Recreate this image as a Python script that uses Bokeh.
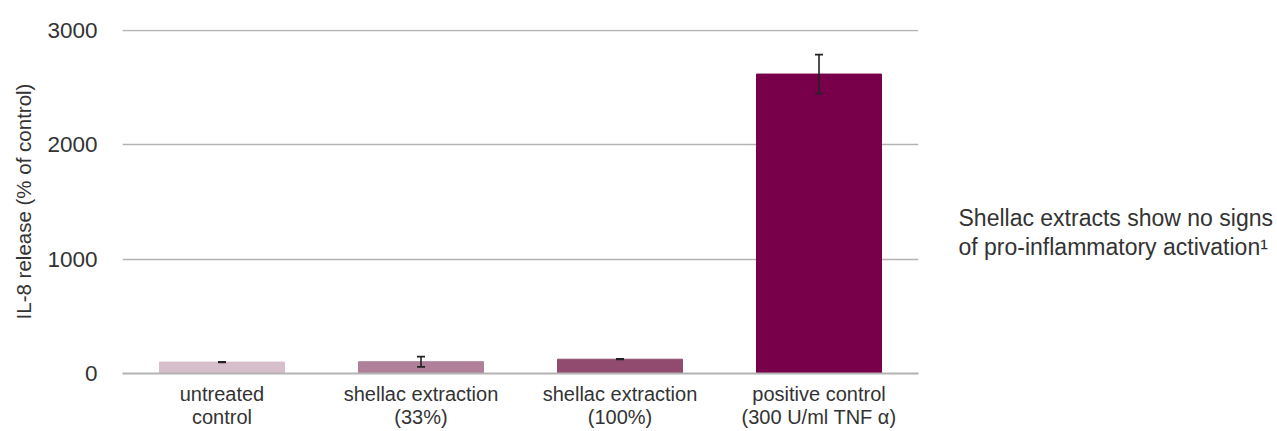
from bokeh.plotting import figure
from bokeh.models import (ColumnDataSource, FactorRange, Range1d, Whisker, TeeHead,
                          FixedTicker)
from bokeh.layouts import row
from bokeh.core.properties import value
from bokeh.embed import file_html
from bokeh.resources import INLINE

# ---- data ----
categories = ["untreated\ncontrol", "shellac extraction\n(33%)",
              "shellac extraction\n(100%)", "positive control\n(300 U/ml TNF \u03b1)"]
il8_mean = [100, 103, 125, 2620]
il8_err = [3, 45, 3, 170]
bar_colors = ["#D7BECB", "#B07F99", "#904B6E", "#78004A"]
y_ticks = [0, 1000, 2000, 3000]
note_lines = ["Shellac extracts show no signs", "of pro-inflammatory activation\u00b9"]

FONT = "Liberation Sans"
TXT = "#333333"

src = ColumnDataSource(dict(
    cat=categories, mean=il8_mean,
    upper=[m + e for m, e in zip(il8_mean, il8_err)],
    lower=[m - e for m, e in zip(il8_mean, il8_err)],
    color=bar_colors,
))

p = figure(width=958, height=431, x_range=FactorRange(*categories, range_padding=0),
           y_range=Range1d(0, 3010), output_backend="svg", toolbar_location=None,
           min_border_left=122, min_border_right=40, min_border_top=29,
           min_border_bottom=58)
p.outline_line_color = None

p.vbar(x="cat", top="mean", bottom=0, width=0.628, color="color", source=src)

w = Whisker(base="cat", upper="upper", lower="lower", source=src,
            line_color="#222222", line_width=1.6, level="overlay",
            upper_head=TeeHead(size=8, line_color="#222222", line_width=1.6),
            lower_head=TeeHead(size=8, line_color="#222222", line_width=1.6))
p.add_layout(w)

# grid
p.xgrid.grid_line_color = None
p.ygrid.grid_line_color = "#B3B3B3"
p.ygrid.grid_line_width = 1.5
p.ygrid.ticker = FixedTicker(ticks=y_ticks)

# y axis
p.yaxis.ticker = FixedTicker(ticks=y_ticks)
p.yaxis.axis_line_color = None
p.yaxis.major_tick_line_color = None
p.yaxis.minor_tick_line_color = None
p.yaxis.major_tick_out = 0
p.yaxis.minor_tick_out = 0
p.yaxis.major_label_text_font = FONT
p.yaxis.major_label_text_font_size = "22.5px"
p.yaxis.major_label_text_color = TXT
p.yaxis.major_label_standoff = 25
p.yaxis.axis_label = "IL-8 release (% of control)"
p.yaxis.axis_label_text_font = FONT
p.yaxis.axis_label_text_font_size = "20.5px"
p.yaxis.axis_label_text_font_style = "normal"
p.yaxis.axis_label_text_color = TXT
p.yaxis.axis_label_standoff = 9

# x axis
p.xaxis.axis_line_color = "#B3B3B3"
p.xaxis.axis_line_width = 2
p.xaxis.major_tick_line_color = None
p.xaxis.minor_tick_line_color = None
p.xaxis.major_tick_out = 0
p.xaxis.minor_tick_out = 0
p.xaxis.major_label_text_font = FONT
p.xaxis.major_label_text_font_size = "20px"
p.xaxis.major_label_text_color = TXT
p.xaxis.major_label_text_line_height = 1.05
p.xaxis.major_label_standoff = 9
p.xaxis.major_label_orientation = "horizontal"

# side note panel (its frame is aligned with the main frame: 344 px tall)
p2 = figure(width=319, height=431, x_range=Range1d(0, 319), y_range=Range1d(0, 344),
            output_backend="svg", toolbar_location=None,
            x_axis_location=None, y_axis_location=None,
            min_border_left=0, min_border_right=0, min_border_top=29, min_border_bottom=58)
p2.grid.visible = False
p2.outline_line_color = None
p2.text(x=[0, 0], y=[156, 127], text=note_lines, text_font=value(FONT),
        text_font_size="23px", text_color=TXT, text_baseline="middle")

open("out.html", "w").write(file_html(row(p, p2), INLINE))
